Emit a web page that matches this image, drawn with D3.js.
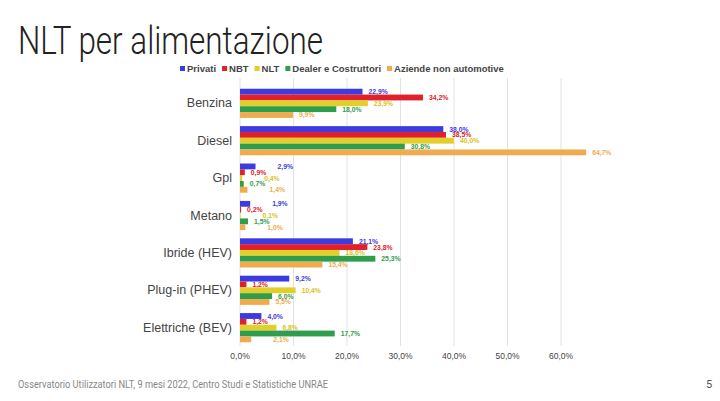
<!DOCTYPE html>
<html><head><meta charset="utf-8">
<script src="https://cdn.jsdelivr.net/npm/d3@7"></script>
<style>body{margin:0;background:#fff}</style>
</head><body>
<svg id="c" width="720" height="401"></svg>
<script>
// --- Data ---
const categories = ["Benzina", "Diesel", "Gpl", "Metano", "Ibride (HEV)", "Plug-in (PHEV)", "Elettriche (BEV)"];
const seriesNames = ["Privati", "NBT", "NLT", "Dealer e Costruttori", "Aziende non automotive"];
const privati = [22.9, 38.0, 2.9, 1.9, 21.1, 9.2, 4.0];
const nbt = [34.2, 38.5, 0.9, 0.2, 23.8, 1.2, 1.2];
const nlt = [23.9, 40.0, 0.4, 0.1, 18.6, 10.4, 6.8];
const dealer = [18.0, 30.8, 0.7, 1.5, 25.3, 6.0, 17.7];
const aziende = [9.9, 64.7, 1.4, 1.0, 15.4, 5.5, 2.1];
const ticks = [0, 10, 20, 30, 40, 50, 60];
const colors = ["#3b3be0", "#e0202a", "#e2cf2a", "#2f9e4c", "#efab4d"];
const series = [privati, nbt, nlt, dealer, aziende];

const svg = d3.select("#c");
const fmt = v => v.toFixed(1).replace(".", ",") + "%";

// title + footer
svg.append("text").attr("x", 18).attr("y", 54).attr("font-family", "Roboto").attr("font-weight", 300)
  .attr("font-size", 38).attr("fill", "#222").attr("textLength", 305).attr("lengthAdjust", "spacingAndGlyphs")
  .text("NLT per alimentazione");
svg.append("text").attr("x", 18).attr("y", 388).attr("font-family", "Roboto").attr("font-size", 11)
  .attr("fill", "#888").attr("textLength", 310).attr("lengthAdjust", "spacingAndGlyphs")
  .text("Osservatorio Utilizzatori NLT, 9 mesi 2022, Centro Studi e Statistiche UNRAE");
svg.append("text").attr("x", 706).attr("y", 388).attr("font-family", "Roboto").attr("font-size", 11)
  .attr("fill", "#555").text("5");

// scales
const x = d3.scaleLinear().domain([0, 60]).range([240, 561]);
const y = d3.scaleBand().domain(categories).range([85, 346]).paddingInner(0.22).paddingOuter(0.1);
const yi = d3.scaleBand().domain(d3.range(5)).range([0, y.bandwidth()]);

// grid
svg.append("g").selectAll("line").data(ticks).join("line")
  .attr("x1", d => x(d)).attr("x2", d => x(d)).attr("y1", 78).attr("y2", 346)
  .attr("stroke", "#e2e2e2");

// x axis labels
svg.append("g").selectAll("text").data(ticks).join("text")
  .attr("x", d => x(d)).attr("y", 359).attr("text-anchor", "middle")
  .attr("font-family", "Arial, Liberation Sans").attr("font-size", 8.5).attr("fill", "#444")
  .text(d => d.toFixed(1).replace(".", ",") + "%");

// category labels
svg.append("g").selectAll("text").data(categories).join("text")
  .attr("x", 232).attr("y", d => y(d) + y.bandwidth() / 2 + 4).attr("text-anchor", "end")
  .attr("font-family", "Arial, Liberation Sans").attr("font-size", 12.5).attr("fill", "#444")
  .text(d => d);

// bars
series.forEach((vals, s) => {
  const g = svg.append("g");
  g.selectAll("rect").data(vals).join("rect")
    .attr("x", x(0)).attr("y", (d, i) => y(categories[i]) + yi(s))
    .attr("width", d => x(d) - x(0)).attr("height", yi.bandwidth())
    .attr("fill", colors[s]);
  // small values: stagger labels sideways, like the leader-line labels in the original
  g.selectAll("text").data(vals).join("text")
    .attr("x", d => x(d) + (d < 3 ? (s % 2 ? 6 : 22) : 6))
    .attr("y", (d, i) => y(categories[i]) + yi(s) + yi.bandwidth() / 2 + 2.5)
    .attr("font-family", "Arial, Liberation Sans").attr("font-size", 6.8).attr("font-weight", "bold")
    .attr("fill", colors[s] === "#e2cf2a" ? "#d8c222" : colors[s])
    .text(d => fmt(d));
});

// legend
const legend = svg.append("g").attr("font-family", "Arial, Liberation Sans").attr("font-size", 9.5)
  .attr("font-weight", "bold").attr("fill", "#444");
let lx = 180;
seriesNames.forEach((n, i) => {
  legend.append("rect").attr("x", lx).attr("y", 66).attr("width", 5).attr("height", 5).attr("fill", colors[i]);
  const t = legend.append("text").attr("x", lx + 7).attr("y", 72).text(n);
  lx += t.node().getComputedTextLength() + 13;
});
</script>
</body></html>
